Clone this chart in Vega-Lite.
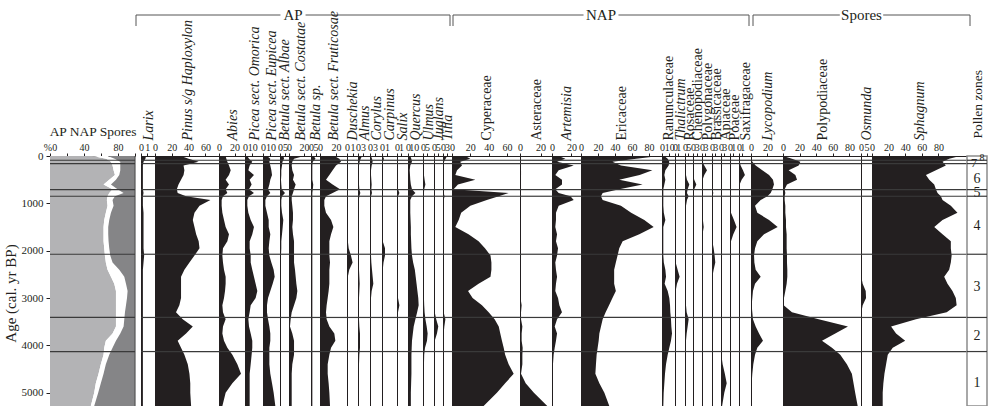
{
"$schema":"https://vega.github.io/schema/vega-lite/v6.json",
"padding":{"top":7,"left":3,"right":0,"bottom":0},
"config":{"view":{"stroke":null},
"axis":{"labelFont":"Liberation Serif","titleFont":"Liberation Serif","labelColor":"#231f20","titleColor":"#231f20","domainColor":"#231f20","tickColor":"#231f20","titleFontWeight":"normal","labelFlush":false,"labelOverlap":false,"labelBound":false,"grid":false,"labelFontSize":10,"tickSize":3,"labelPadding":1},
"text":{"font":"Liberation Serif"}},
"datasets":{
"pollen":[
{"age":0,"AP":50,"NAP":18,"Spores":32,"Larix":0.8,"Pinus":31,"Abies":8.5,"PiceaOm":3.2,"PiceaEu":5.4,"BetAlb":3.5,"BetCos":20,"BetSp":3,"BetFru":17.9,"Dusch":0.15,"Almus":2.4,"Corylus":0.6,"Carpinus":0.15,"Salix":0.25,"Quercus":4,"Ulmus":1.2,"Juglans":0.5,"Tilia":3,"Cyper":14.5,"Aster":0.3,"Artem":6.9,"Eric":92,"Ranun":3.2,"Thal":0.2,"Rosa":1.5,"Cheno":0.3,"Polyg":0.3,"Brass":0.3,"Api":0.3,"Poa":0.3,"Saxi":0.2,"Lyco":0,"Polyp":0,"Osmu":0.3,"Sphag":106},
{"age":60,"AP":66,"NAP":10,"Spores":24,"Larix":0.7,"Pinus":40,"Abies":9.4,"PiceaOm":5.5,"PiceaEu":9.9,"BetAlb":4,"BetCos":6.7,"BetSp":5,"BetFru":24.2,"Dusch":0.15,"Almus":1.6,"Corylus":1.2,"Carpinus":0.4,"Salix":0.25,"Quercus":5.8,"Ulmus":1.2,"Juglans":0.5,"Tilia":2,"Cyper":20,"Aster":0.3,"Artem":13.8,"Eric":65,"Ranun":7.8,"Thal":0.2,"Rosa":1.5,"Cheno":0.3,"Polyg":0.3,"Brass":0.3,"Api":0.3,"Poa":0.3,"Saxi":0.2,"Lyco":0.8,"Polyp":10.8,"Osmu":0.3,"Sphag":93},
{"age":120,"AP":71.7,"NAP":11,"Spores":17.3,"Larix":0.4,"Pinus":52,"Abies":10.7,"PiceaOm":10,"PiceaEu":8.6,"BetAlb":2.5,"BetCos":4.4,"BetSp":2,"BetFru":26.3,"Dusch":0.15,"Almus":1,"Corylus":1.6,"Carpinus":0.2,"Salix":0.25,"Quercus":7,"Ulmus":1.2,"Juglans":0.5,"Tilia":0.8,"Cyper":9,"Aster":0.5,"Artem":5.2,"Eric":37,"Ranun":10,"Thal":0.2,"Rosa":1.5,"Cheno":0.3,"Polyg":0.5,"Brass":0.3,"Api":0.3,"Poa":0.3,"Saxi":0.2,"Lyco":1.6,"Polyp":20.9,"Osmu":0.3,"Sphag":85},
{"age":200,"AP":73.6,"NAP":9.1,"Spores":17.3,"Larix":0.3,"Pinus":34,"Abies":12.8,"PiceaOm":6.4,"PiceaEu":9.9,"BetAlb":2,"BetCos":3.6,"BetSp":1.5,"BetFru":20,"Dusch":0.15,"Almus":0.6,"Corylus":1,"Carpinus":0.15,"Salix":0.25,"Quercus":4,"Ulmus":1.2,"Juglans":0.5,"Tilia":0.5,"Cyper":10.9,"Aster":0.8,"Artem":22.4,"Eric":47,"Ranun":9.1,"Thal":0.2,"Rosa":1.5,"Cheno":0.3,"Polyg":2,"Brass":0.3,"Api":0.3,"Poa":0.3,"Saxi":0.5,"Lyco":5.7,"Polyp":18.9,"Osmu":0.3,"Sphag":89},
{"age":300,"AP":74.8,"NAP":7.9,"Spores":17.3,"Larix":0.3,"Pinus":35,"Abies":15,"PiceaOm":4.6,"PiceaEu":11.3,"BetAlb":1.3,"BetCos":4.4,"BetSp":1.5,"BetFru":15.8,"Dusch":0.15,"Almus":0.5,"Corylus":0.6,"Carpinus":0.15,"Salix":0.25,"Quercus":3,"Ulmus":1.2,"Juglans":0.5,"Tilia":0.5,"Cyper":5.5,"Aster":1,"Artem":6.9,"Eric":84,"Ranun":4.6,"Thal":0.2,"Rosa":1.5,"Cheno":0.3,"Polyg":4.4,"Brass":0.3,"Api":0.3,"Poa":0.3,"Saxi":1.2,"Lyco":13.8,"Polyp":6.8,"Osmu":0.3,"Sphag":77},
{"age":400,"AP":76.4,"NAP":5.1,"Spores":18.5,"Larix":0.3,"Pinus":34,"Abies":12.8,"PiceaOm":12.3,"PiceaEu":12.2,"BetAlb":1.3,"BetCos":6.7,"BetSp":1.5,"BetFru":11.7,"Dusch":0.15,"Almus":0.5,"Corylus":0.6,"Carpinus":0.15,"Salix":0.25,"Quercus":3.5,"Ulmus":1.2,"Juglans":0.5,"Tilia":0.5,"Cyper":3.6,"Aster":1,"Artem":3.4,"Eric":69,"Ranun":3.2,"Thal":0.2,"Rosa":1.5,"Cheno":0.3,"Polyg":2,"Brass":0.3,"Api":0.3,"Poa":0.3,"Saxi":1.8,"Lyco":22,"Polyp":14.9,"Osmu":0.3,"Sphag":65},
{"age":500,"AP":69.7,"NAP":7.9,"Spores":22.4,"Larix":0.3,"Pinus":31,"Abies":8.5,"PiceaOm":6.4,"PiceaEu":9.9,"BetAlb":1,"BetCos":5.3,"BetSp":1.5,"BetFru":7.5,"Dusch":0.15,"Almus":0.5,"Corylus":0.8,"Carpinus":0.15,"Salix":0.25,"Quercus":4,"Ulmus":2,"Juglans":0.5,"Tilia":0.5,"Cyper":25.5,"Aster":0.5,"Artem":10.3,"Eric":45,"Ranun":4.6,"Thal":0.2,"Rosa":3,"Cheno":1,"Polyg":0.5,"Brass":0.3,"Api":0.3,"Poa":0.3,"Saxi":0.8,"Lyco":26.8,"Polyp":16.9,"Osmu":0.3,"Sphag":69},
{"age":600,"AP":63,"NAP":8.7,"Spores":28.3,"Larix":0.3,"Pinus":28,"Abies":12.8,"PiceaOm":9.1,"PiceaEu":8.6,"BetAlb":1.3,"BetCos":8.9,"BetSp":2.5,"BetFru":15.8,"Dusch":0.15,"Almus":0.6,"Corylus":1,"Carpinus":0.15,"Salix":0.25,"Quercus":5,"Ulmus":3,"Juglans":0.5,"Tilia":0.5,"Cyper":6.5,"Aster":0.3,"Artem":10.3,"Eric":72.5,"Ranun":3.2,"Thal":0.2,"Rosa":6.5,"Cheno":2.7,"Polyg":0.3,"Brass":0.3,"Api":0.3,"Poa":0.3,"Saxi":0.2,"Lyco":28,"Polyp":4.8,"Osmu":0.3,"Sphag":75},
{"age":700,"AP":73.6,"NAP":5.9,"Spores":20.5,"Larix":0.3,"Pinus":26,"Abies":8.5,"PiceaOm":5.5,"PiceaEu":6.8,"BetAlb":1.7,"BetCos":6.7,"BetSp":2,"BetFru":25,"Dusch":0.15,"Almus":0.8,"Corylus":0.8,"Carpinus":0.15,"Salix":0.25,"Quercus":7,"Ulmus":1.5,"Juglans":0.5,"Tilia":0.5,"Cyper":1.8,"Aster":0.3,"Artem":3.4,"Eric":45,"Ranun":1.8,"Thal":0.2,"Rosa":4,"Cheno":1,"Polyg":0.3,"Brass":0.3,"Api":0.3,"Poa":0.3,"Saxi":0.2,"Lyco":26,"Polyp":2,"Osmu":0.3,"Sphag":77},
{"age":780,"AP":69.7,"NAP":16.9,"Spores":13.4,"Larix":0.4,"Pinus":27,"Abies":10.7,"PiceaOm":12.3,"PiceaEu":9.9,"BetAlb":5,"BetCos":5.3,"BetSp":1.5,"BetFru":15.8,"Dusch":0.15,"Almus":1.4,"Corylus":1.2,"Carpinus":0.15,"Salix":0.6,"Quercus":13,"Ulmus":1.2,"Juglans":0.5,"Tilia":0.5,"Cyper":61.8,"Aster":0.3,"Artem":6.9,"Eric":25.5,"Ranun":1.8,"Thal":0.2,"Rosa":3,"Cheno":0.3,"Polyg":0.3,"Brass":1.2,"Api":0.3,"Poa":0.3,"Saxi":0.2,"Lyco":24,"Polyp":2.8,"Osmu":0.3,"Sphag":79},
{"age":850,"AP":67.7,"NAP":8.7,"Spores":23.6,"Larix":0.3,"Pinus":37,"Abies":5.1,"PiceaOm":5.5,"PiceaEu":5.4,"BetAlb":2,"BetCos":3.6,"BetSp":1.5,"BetFru":7.5,"Dusch":0.15,"Almus":0.8,"Corylus":0.6,"Carpinus":0.15,"Salix":0.25,"Quercus":7,"Ulmus":1.2,"Juglans":0.5,"Tilia":1.2,"Cyper":51,"Aster":0.3,"Artem":19,"Eric":23.5,"Ranun":1.8,"Thal":0.2,"Rosa":5.5,"Cheno":0.3,"Polyg":0.3,"Brass":0.3,"Api":0.3,"Poa":0.3,"Saxi":0.2,"Lyco":20,"Polyp":2,"Osmu":0.3,"Sphag":83},
{"age":930,"AP":66.9,"NAP":6.7,"Spores":26.4,"Larix":0.3,"Pinus":66,"Abies":3.4,"PiceaOm":3.2,"PiceaEu":3.2,"BetAlb":1.3,"BetCos":3.6,"BetSp":1.5,"BetFru":5.4,"Dusch":0.15,"Almus":0.5,"Corylus":0.6,"Carpinus":0.15,"Salix":0.25,"Quercus":4,"Ulmus":1.2,"Juglans":0.5,"Tilia":0.5,"Cyper":38,"Aster":0.3,"Artem":22.4,"Eric":25.5,"Ranun":1.8,"Thal":0.2,"Rosa":3,"Cheno":0.3,"Polyg":0.3,"Brass":0.3,"Api":0.3,"Poa":0.3,"Saxi":0.2,"Lyco":11.8,"Polyp":2,"Osmu":0.3,"Sphag":85},
{"age":1050,"AP":67.7,"NAP":7.1,"Spores":25.2,"Larix":0.3,"Pinus":53,"Abies":3.4,"PiceaOm":3.2,"PiceaEu":3.2,"BetAlb":1.3,"BetCos":4.4,"BetSp":1.5,"BetFru":5.4,"Dusch":0.15,"Almus":0.5,"Corylus":0.6,"Carpinus":0.15,"Salix":0.25,"Quercus":4,"Ulmus":1.2,"Juglans":0.5,"Tilia":0.5,"Cyper":20,"Aster":0.3,"Artem":6.9,"Eric":47,"Ranun":1.8,"Thal":0.2,"Rosa":1.5,"Cheno":0.3,"Polyg":0.3,"Brass":0.3,"Api":0.3,"Poa":0.3,"Saxi":0.2,"Lyco":4.9,"Polyp":2.8,"Osmu":0.3,"Sphag":95},
{"age":1200,"AP":65.7,"NAP":6,"Spores":28.3,"Larix":0.4,"Pinus":47,"Abies":4.3,"PiceaOm":4.6,"PiceaEu":5.4,"BetAlb":2,"BetCos":5.3,"BetSp":1.5,"BetFru":7.5,"Dusch":0.15,"Almus":0.5,"Corylus":0.6,"Carpinus":0.15,"Salix":0.25,"Quercus":4,"Ulmus":1.2,"Juglans":0.5,"Tilia":0.5,"Cyper":10,"Aster":0.3,"Artem":4.1,"Eric":59,"Ranun":2.5,"Thal":0.2,"Rosa":1.5,"Cheno":0.3,"Polyg":0.3,"Brass":0.3,"Api":0.3,"Poa":0.3,"Saxi":0.2,"Lyco":7.7,"Polyp":2.8,"Osmu":0.3,"Sphag":103},
{"age":1350,"AP":63.8,"NAP":5.9,"Spores":30.3,"Larix":0.4,"Pinus":45,"Abies":6.4,"PiceaOm":7.8,"PiceaEu":7.7,"BetAlb":3.3,"BetCos":5.3,"BetSp":1.5,"BetFru":13.8,"Dusch":0.15,"Almus":0.5,"Corylus":0.6,"Carpinus":0.15,"Salix":0.25,"Quercus":4.5,"Ulmus":1.2,"Juglans":0.5,"Tilia":0.5,"Cyper":7.3,"Aster":0.3,"Artem":4.1,"Eric":74.5,"Ranun":4.6,"Thal":0.2,"Rosa":1.5,"Cheno":0.3,"Polyg":0.8,"Brass":0.3,"Api":0.3,"Poa":1.2,"Saxi":0.2,"Lyco":22,"Polyp":3.6,"Osmu":0.3,"Sphag":85},
{"age":1500,"AP":63,"NAP":5.5,"Spores":31.5,"Larix":0.4,"Pinus":47,"Abies":8.5,"PiceaOm":12.3,"PiceaEu":7.7,"BetAlb":2.7,"BetCos":4.4,"BetSp":1.5,"BetFru":16.7,"Dusch":0.15,"Almus":0.5,"Corylus":0.6,"Carpinus":0.15,"Salix":0.25,"Quercus":5,"Ulmus":1.2,"Juglans":0.5,"Tilia":0.5,"Cyper":3.6,"Aster":0.3,"Artem":3.4,"Eric":85.5,"Ranun":1.8,"Thal":0.2,"Rosa":1.5,"Cheno":0.3,"Polyg":1.5,"Brass":0.3,"Api":0.3,"Poa":2,"Saxi":0.2,"Lyco":32.5,"Polyp":3.6,"Osmu":0.3,"Sphag":75},
{"age":1650,"AP":63,"NAP":5.5,"Spores":31.5,"Larix":0.4,"Pinus":49,"Abies":12.8,"PiceaOm":10,"PiceaEu":9.9,"BetAlb":2,"BetCos":5.3,"BetSp":1.5,"BetFru":13.8,"Dusch":0.15,"Almus":0.5,"Corylus":0.6,"Carpinus":0.15,"Salix":0.25,"Quercus":5,"Ulmus":1.2,"Juglans":0.5,"Tilia":0.5,"Cyper":18,"Aster":0.3,"Artem":5.2,"Eric":68.6,"Ranun":1.8,"Thal":0.2,"Rosa":1.5,"Cheno":0.3,"Polyg":0.5,"Brass":0.3,"Api":0.3,"Poa":1,"Saxi":0.2,"Lyco":15.9,"Polyp":4.4,"Osmu":0.3,"Sphag":85},
{"age":1800,"AP":63,"NAP":5.9,"Spores":31.1,"Larix":0.4,"Pinus":52,"Abies":10.7,"PiceaOm":6.4,"PiceaEu":8.6,"BetAlb":1.3,"BetCos":6.7,"BetSp":1.5,"BetFru":11.7,"Dusch":0.15,"Almus":0.5,"Corylus":0.6,"Carpinus":0.15,"Salix":0.25,"Quercus":5.5,"Ulmus":1.2,"Juglans":0.5,"Tilia":0.5,"Cyper":29,"Aster":0.3,"Artem":4.1,"Eric":49,"Ranun":1.8,"Thal":0.2,"Rosa":1.5,"Cheno":0.3,"Polyg":0.3,"Brass":0.3,"Api":0.3,"Poa":0.3,"Saxi":0.2,"Lyco":7.7,"Polyp":4.4,"Osmu":0.3,"Sphag":95},
{"age":1950,"AP":63.8,"NAP":5.9,"Spores":30.3,"Larix":0.4,"Pinus":53,"Abies":5.1,"PiceaOm":6.4,"PiceaEu":7.7,"BetAlb":1.3,"BetCos":6.7,"BetSp":1.5,"BetFru":11.7,"Dusch":0.3,"Almus":0.6,"Corylus":0.6,"Carpinus":0.6,"Salix":0.25,"Quercus":6,"Ulmus":1.2,"Juglans":0.5,"Tilia":0.5,"Cyper":36,"Aster":0.3,"Artem":6.2,"Eric":45,"Ranun":1.8,"Thal":0.2,"Rosa":1.5,"Cheno":0.3,"Polyg":0.3,"Brass":1.5,"Api":0.3,"Poa":0.3,"Saxi":0.2,"Lyco":4.9,"Polyp":4.4,"Osmu":0.3,"Sphag":95},
{"age":2100,"AP":64.6,"NAP":6.3,"Spores":29.1,"Larix":0.5,"Pinus":47,"Abies":4.3,"PiceaOm":7.8,"PiceaEu":8.6,"BetAlb":1,"BetCos":6.7,"BetSp":1.5,"BetFru":11.7,"Dusch":0.7,"Almus":0.6,"Corylus":0.6,"Carpinus":0.6,"Salix":0.25,"Quercus":7,"Ulmus":1.2,"Juglans":0.5,"Tilia":0.5,"Cyper":42,"Aster":0.3,"Artem":5.2,"Eric":43,"Ranun":1.8,"Thal":0.2,"Rosa":1.5,"Cheno":0.3,"Polyg":0.3,"Brass":2.4,"Api":0.3,"Poa":0.3,"Saxi":0.2,"Lyco":3.7,"Polyp":4.8,"Osmu":0.3,"Sphag":96},
{"age":2250,"AP":65.7,"NAP":7.9,"Spores":26.4,"Larix":0.4,"Pinus":41,"Abies":5.1,"PiceaOm":7.8,"PiceaEu":11.3,"BetAlb":1,"BetCos":6.7,"BetSp":1.5,"BetFru":12.5,"Dusch":1,"Almus":0.6,"Corylus":0.8,"Carpinus":0.3,"Salix":0.25,"Quercus":9,"Ulmus":1.2,"Juglans":0.5,"Tilia":0.5,"Cyper":43,"Aster":0.3,"Artem":3.4,"Eric":41,"Ranun":2.5,"Thal":0.2,"Rosa":1.5,"Cheno":0.3,"Polyg":0.3,"Brass":3,"Api":0.3,"Poa":0.3,"Saxi":0.2,"Lyco":4.1,"Polyp":4.8,"Osmu":0.3,"Sphag":95},
{"age":2400,"AP":67.7,"NAP":13.8,"Spores":18.5,"Larix":0.3,"Pinus":35,"Abies":6.4,"PiceaOm":10,"PiceaEu":14.4,"BetAlb":1,"BetCos":8,"BetSp":1.5,"BetFru":11.7,"Dusch":0.4,"Almus":0.6,"Corylus":1.2,"Carpinus":0.15,"Salix":0.25,"Quercus":12,"Ulmus":1.2,"Juglans":0.5,"Tilia":0.5,"Cyper":43,"Aster":0.3,"Artem":4.1,"Eric":39,"Ranun":4.6,"Thal":0.8,"Rosa":1.5,"Cheno":0.3,"Polyg":0.3,"Brass":1.5,"Api":0.3,"Poa":0.3,"Saxi":0.2,"Lyco":5.7,"Polyp":5.2,"Osmu":0.3,"Sphag":93},
{"age":2550,"AP":71.7,"NAP":15.7,"Spores":12.6,"Larix":0.3,"Pinus":31,"Abies":8.5,"PiceaOm":12.3,"PiceaEu":15.8,"BetAlb":1,"BetCos":8.9,"BetSp":1.5,"BetFru":11.7,"Dusch":0.15,"Almus":0.8,"Corylus":1.6,"Carpinus":0.15,"Salix":0.25,"Quercus":13.5,"Ulmus":1.2,"Juglans":0.5,"Tilia":0.5,"Cyper":42,"Aster":0.3,"Artem":5.2,"Eric":39,"Ranun":5.5,"Thal":1.4,"Rosa":1.5,"Cheno":0.3,"Polyg":0.3,"Brass":0.3,"Api":0.3,"Poa":0.3,"Saxi":0.2,"Lyco":11.8,"Polyp":5.2,"Osmu":0.3,"Sphag":87},
{"age":2700,"AP":75.6,"NAP":13.8,"Spores":10.6,"Larix":0.3,"Pinus":31,"Abies":8.5,"PiceaOm":14.6,"PiceaEu":13.1,"BetAlb":1,"BetCos":9.8,"BetSp":1.5,"BetFru":11.7,"Dusch":0.15,"Almus":1,"Corylus":2,"Carpinus":0.15,"Salix":0.25,"Quercus":15,"Ulmus":1.2,"Juglans":0.5,"Tilia":0.5,"Cyper":29,"Aster":0.3,"Artem":4.1,"Eric":39,"Ranun":3.6,"Thal":0.6,"Rosa":1.5,"Cheno":0.3,"Polyg":0.3,"Brass":0.3,"Api":0.3,"Poa":0.3,"Saxi":0.2,"Lyco":4.9,"Polyp":4.4,"Osmu":1.5,"Sphag":91},
{"age":2850,"AP":77.6,"NAP":13.7,"Spores":8.7,"Larix":0.3,"Pinus":31,"Abies":7.7,"PiceaOm":16.9,"PiceaEu":9.9,"BetAlb":1,"BetCos":11.1,"BetSp":1.5,"BetFru":10.8,"Dusch":0.15,"Almus":0.8,"Corylus":1,"Carpinus":0.15,"Salix":0.25,"Quercus":16.5,"Ulmus":1.2,"Juglans":0.5,"Tilia":0.5,"Cyper":17.5,"Aster":0.3,"Artem":3.4,"Eric":41,"Ranun":7.8,"Thal":0.2,"Rosa":1.5,"Cheno":0.3,"Polyg":0.3,"Brass":0.3,"Api":0.3,"Poa":0.3,"Saxi":0.2,"Lyco":2.4,"Polyp":2.8,"Osmu":4.2,"Sphag":97},
{"age":3000,"AP":77.6,"NAP":13,"Spores":9.4,"Larix":0.3,"Pinus":31,"Abies":6.4,"PiceaOm":14.6,"PiceaEu":6.8,"BetAlb":1,"BetCos":9.8,"BetSp":1.5,"BetFru":9.6,"Dusch":0.15,"Almus":0.6,"Corylus":0.6,"Carpinus":0.15,"Salix":0.25,"Quercus":18,"Ulmus":1.2,"Juglans":0.5,"Tilia":0.5,"Cyper":22.5,"Aster":0.5,"Artem":6.2,"Eric":37,"Ranun":10,"Thal":0.2,"Rosa":1.5,"Cheno":0.3,"Polyg":0.3,"Brass":0.3,"Api":0.3,"Poa":0.3,"Saxi":0.2,"Lyco":1.6,"Polyp":1.2,"Osmu":4.5,"Sphag":101},
{"age":3150,"AP":77.6,"NAP":11.8,"Spores":10.6,"Larix":0.3,"Pinus":29,"Abies":4.3,"PiceaOm":7.8,"PiceaEu":5.4,"BetAlb":1,"BetCos":6.7,"BetSp":1.5,"BetFru":8.3,"Dusch":0.15,"Almus":0.5,"Corylus":0.6,"Carpinus":0.15,"Salix":0.6,"Quercus":18.7,"Ulmus":1.5,"Juglans":0.5,"Tilia":0.5,"Cyper":32.7,"Aster":1.6,"Artem":7.6,"Eric":33,"Ranun":11,"Thal":0.2,"Rosa":1.5,"Cheno":0.3,"Polyg":0.3,"Brass":0.3,"Api":0.3,"Poa":0.3,"Saxi":0.2,"Lyco":0.8,"Polyp":0.8,"Osmu":1.5,"Sphag":102},
{"age":3300,"AP":77.6,"NAP":10.6,"Spores":11.8,"Larix":0.3,"Pinus":25,"Abies":5.1,"PiceaOm":6.4,"PiceaEu":5.4,"BetAlb":1,"BetCos":3.6,"BetSp":1.5,"BetFru":7.5,"Dusch":0.15,"Almus":0.5,"Corylus":0.6,"Carpinus":0.15,"Salix":0.25,"Quercus":16,"Ulmus":2,"Juglans":1,"Tilia":0.5,"Cyper":40,"Aster":1,"Artem":10.3,"Eric":29,"Ranun":11.4,"Thal":0.2,"Rosa":2.5,"Cheno":0.3,"Polyg":0.3,"Brass":0.3,"Api":0.3,"Poa":0.3,"Saxi":0.2,"Lyco":1.6,"Polyp":10.8,"Osmu":0.3,"Sphag":90},
{"age":3450,"AP":77.6,"NAP":9.8,"Spores":12.6,"Larix":0.3,"Pinus":33,"Abies":8.5,"PiceaOm":4.6,"PiceaEu":6.8,"BetAlb":1,"BetCos":2.2,"BetSp":1.5,"BetFru":8.3,"Dusch":0.15,"Almus":0.6,"Corylus":0.6,"Carpinus":0.15,"Salix":0.25,"Quercus":13,"Ulmus":3,"Juglans":3,"Tilia":1.8,"Cyper":46.5,"Aster":1,"Artem":5.2,"Eric":25.5,"Ranun":12.3,"Thal":0.2,"Rosa":5.5,"Cheno":0.3,"Polyg":0.3,"Brass":0.3,"Api":0.3,"Poa":0.3,"Saxi":0.2,"Lyco":2.4,"Polyp":43,"Osmu":0.3,"Sphag":53},
{"age":3600,"AP":77.6,"NAP":9,"Spores":13.4,"Larix":0.3,"Pinus":45,"Abies":5.1,"PiceaOm":5.5,"PiceaEu":8.6,"BetAlb":1,"BetCos":1.3,"BetSp":1.5,"BetFru":11.7,"Dusch":0.15,"Almus":0.8,"Corylus":0.6,"Carpinus":0.15,"Salix":0.25,"Quercus":10,"Ulmus":4.6,"Juglans":5.8,"Tilia":1,"Cyper":51,"Aster":2.3,"Artem":2.8,"Eric":23.5,"Ranun":12.8,"Thal":0.2,"Rosa":4,"Cheno":0.3,"Polyg":0.3,"Brass":0.3,"Api":0.3,"Poa":0.3,"Saxi":0.2,"Lyco":5.7,"Polyp":78.3,"Osmu":0.3,"Sphag":23},
{"age":3750,"AP":73.6,"NAP":9.1,"Spores":17.3,"Larix":0.3,"Pinus":37,"Abies":4.3,"PiceaOm":7.8,"PiceaEu":9.9,"BetAlb":1,"BetCos":4.4,"BetSp":1.5,"BetFru":17.9,"Dusch":0.15,"Almus":1.2,"Corylus":0.6,"Carpinus":0.15,"Salix":0.25,"Quercus":8.5,"Ulmus":5.8,"Juglans":4,"Tilia":0.5,"Cyper":52.7,"Aster":1.6,"Artem":5.2,"Eric":21.6,"Ranun":13.7,"Thal":0.2,"Rosa":2.5,"Cheno":0.3,"Polyg":0.3,"Brass":0.3,"Api":0.3,"Poa":0.3,"Saxi":0.2,"Lyco":9.8,"Polyp":63,"Osmu":0.3,"Sphag":29},
{"age":3900,"AP":65.7,"NAP":11.9,"Spores":22.4,"Larix":0.3,"Pinus":27,"Abies":6.4,"PiceaOm":10,"PiceaEu":9.9,"BetAlb":0.8,"BetCos":6.7,"BetSp":1.5,"BetFru":19.2,"Dusch":0.15,"Almus":1.2,"Corylus":0.6,"Carpinus":0.15,"Salix":0.25,"Quercus":7,"Ulmus":5,"Juglans":1,"Tilia":0.5,"Cyper":54.5,"Aster":1.6,"Artem":4.1,"Eric":20.8,"Ranun":12.3,"Thal":0.2,"Rosa":1.5,"Cheno":0.3,"Polyg":0.3,"Brass":0.3,"Api":0.3,"Poa":0.3,"Saxi":0.2,"Lyco":14.6,"Polyp":47,"Osmu":0.8,"Sphag":40},
{"age":4050,"AP":63.8,"NAP":9.8,"Spores":26.4,"Larix":0.3,"Pinus":31,"Abies":10.7,"PiceaOm":10,"PiceaEu":8.6,"BetAlb":0.7,"BetCos":6.7,"BetSp":1.5,"BetFru":13.8,"Dusch":0.15,"Almus":1.2,"Corylus":0.6,"Carpinus":0.15,"Salix":0.25,"Quercus":6.5,"Ulmus":2.5,"Juglans":0.5,"Tilia":0.5,"Cyper":56.4,"Aster":2.6,"Artem":2.8,"Eric":19.6,"Ranun":10,"Thal":0.2,"Rosa":1.5,"Cheno":0.3,"Polyg":0.3,"Brass":0.3,"Api":0.3,"Poa":0.3,"Saxi":0.2,"Lyco":7.7,"Polyp":59,"Osmu":0.3,"Sphag":25},
{"age":4200,"AP":63,"NAP":6.7,"Spores":30.3,"Larix":0.3,"Pinus":35,"Abies":17.1,"PiceaOm":9.1,"PiceaEu":8.6,"BetAlb":0.7,"BetCos":6.7,"BetSp":1.5,"BetFru":11.7,"Dusch":0.15,"Almus":0.8,"Corylus":0.6,"Carpinus":0.15,"Salix":0.25,"Quercus":6,"Ulmus":1.5,"Juglans":0.5,"Tilia":0.5,"Cyper":58,"Aster":2.3,"Artem":1.7,"Eric":18.4,"Ranun":7.8,"Thal":0.2,"Rosa":1.5,"Cheno":0.3,"Polyg":0.3,"Brass":0.3,"Api":0.3,"Poa":0.3,"Saxi":0.2,"Lyco":4.9,"Polyp":69,"Osmu":0.3,"Sphag":19},
{"age":4400,"AP":59.8,"NAP":5.9,"Spores":34.3,"Larix":0.3,"Pinus":39,"Abies":23.5,"PiceaOm":7.8,"PiceaEu":8.6,"BetAlb":0.7,"BetCos":4.4,"BetSp":1.5,"BetFru":9.6,"Dusch":0.15,"Almus":0.6,"Corylus":0.6,"Carpinus":0.15,"Salix":0.25,"Quercus":6,"Ulmus":1.2,"Juglans":0.5,"Tilia":0.5,"Cyper":61.8,"Aster":2.3,"Artem":1,"Eric":17.6,"Ranun":5.5,"Thal":0.2,"Rosa":1.5,"Cheno":0.3,"Polyg":0.3,"Brass":0.3,"Api":1.5,"Poa":0.3,"Saxi":0.2,"Lyco":2.8,"Polyp":77,"Osmu":0.3,"Sphag":17},
{"age":4600,"AP":57.1,"NAP":5.9,"Spores":37,"Larix":0.3,"Pinus":41,"Abies":28.2,"PiceaOm":6.4,"PiceaEu":9.9,"BetAlb":0.7,"BetCos":3.6,"BetSp":1.5,"BetFru":9.6,"Dusch":0.15,"Almus":0.6,"Corylus":0.6,"Carpinus":0.15,"Salix":0.25,"Quercus":6,"Ulmus":1.2,"Juglans":0.5,"Tilia":0.5,"Cyper":67.3,"Aster":1,"Artem":0.7,"Eric":16.9,"Ranun":4.1,"Thal":0.2,"Rosa":1.5,"Cheno":0.3,"Polyg":0.3,"Brass":0.3,"Api":3.5,"Poa":0.3,"Saxi":0.2,"Lyco":1.6,"Polyp":83,"Osmu":0.3,"Sphag":15},
{"age":4800,"AP":53.9,"NAP":5.9,"Spores":40.2,"Larix":0.3,"Pinus":42,"Abies":17.1,"PiceaOm":6.4,"PiceaEu":12.2,"BetAlb":0.7,"BetCos":3.6,"BetSp":1.5,"BetFru":10.8,"Dusch":0.15,"Almus":0.5,"Corylus":0.6,"Carpinus":0.15,"Salix":0.25,"Quercus":5.5,"Ulmus":1.2,"Juglans":0.5,"Tilia":0.5,"Cyper":58,"Aster":5.5,"Artem":0.4,"Eric":21.6,"Ranun":3.2,"Thal":0.2,"Rosa":1.5,"Cheno":0.3,"Polyg":0.3,"Brass":0.3,"Api":5.2,"Poa":0.3,"Saxi":0.2,"Lyco":0.8,"Polyp":85,"Osmu":0.3,"Sphag":13.7},
{"age":5000,"AP":52,"NAP":4.7,"Spores":43.3,"Larix":0.3,"Pinus":42,"Abies":8.5,"PiceaOm":6.4,"PiceaEu":14.4,"BetAlb":0.7,"BetCos":3.6,"BetSp":1.5,"BetFru":11.7,"Dusch":0.15,"Almus":0.5,"Corylus":0.6,"Carpinus":0.15,"Salix":0.25,"Quercus":5,"Ulmus":1.2,"Juglans":0.5,"Tilia":0.5,"Cyper":49,"Aster":13.5,"Artem":0.4,"Eric":27.5,"Ranun":2.3,"Thal":0.2,"Rosa":1.5,"Cheno":0.3,"Polyg":0.3,"Brass":0.3,"Api":3,"Poa":0.3,"Saxi":0.2,"Lyco":0.4,"Polyp":87,"Osmu":0.3,"Sphag":12.9},
{"age":5280,"AP":48,"NAP":4,"Spores":48,"Larix":0.3,"Pinus":43,"Abies":4.3,"PiceaOm":6.4,"PiceaEu":16.7,"BetAlb":0.7,"BetCos":3.6,"BetSp":1.5,"BetFru":12.5,"Dusch":0.15,"Almus":0.5,"Corylus":0.6,"Carpinus":0.15,"Salix":0.25,"Quercus":5,"Ulmus":1.2,"Juglans":0.5,"Tilia":0.5,"Cyper":34.5,"Aster":26.5,"Artem":0.2,"Eric":33.3,"Ranun":1.8,"Thal":0.2,"Rosa":1.5,"Cheno":0.3,"Polyg":0.3,"Brass":0.3,"Api":1,"Poa":0.3,"Saxi":0.2,"Lyco":0,"Polyp":90,"Osmu":0.3,"Sphag":12.9}
],
"zoneLines":[{"age":90},{"age":160},{"age":710},{"age":850},{"age":2075},{"age":3410},{"age":4130}],
"zoneLabels":[{"zone":8,"mid":40},{"zone":7,"mid":140},{"zone":6,"mid":476},{"zone":5,"mid":775},{"zone":4,"mid":1480},{"zone":3,"mid":2760},{"zone":2,"mid":3810},{"zone":1,"mid":4785}]
},
"data":{"name":"pollen"},
"vconcat":[
{"hconcat":[
{"width":86,"height":11,"data":{"values":[]},"mark":"point"},
{"width":314,"height":11,"data":{"values":[{}]},"layer":[
{"mark":{"type":"rule","color":"#555555"},"encoding":{"x":{"datum":0,"type":"quantitative","scale":{"domain":[0,1],"nice":false,"zero":false},"axis":null},"x2":{"datum":0.46},"y":{"datum":1,"type":"quantitative","scale":{"domain":[0,1],"nice":false,"zero":false},"axis":null}}},
{"mark":{"type":"rule","color":"#555555"},"encoding":{"x":{"datum":0.54,"type":"quantitative","axis":null},"x2":{"datum":1},"y":{"datum":1,"type":"quantitative","axis":null}}},
{"mark":{"type":"rule","color":"#555555"},"encoding":{"x":{"datum":0,"type":"quantitative","axis":null},"y":{"datum":0,"type":"quantitative","axis":null},"y2":{"datum":1}}},
{"mark":{"type":"rule","color":"#555555"},"encoding":{"x":{"datum":1,"type":"quantitative","axis":null},"y":{"datum":0,"type":"quantitative","axis":null},"y2":{"datum":1}}},
{"mark":{"type":"text","fontSize":15,"baseline":"middle","color":"#231f20"},"encoding":{"x":{"datum":0.5,"type":"quantitative","axis":null},"y":{"datum":1,"type":"quantitative","axis":null},"text":{"value":"AP"}}}
]},
{"width":3,"height":11,"data":{"values":[]},"mark":"point"},
{"width":296,"height":11,"data":{"values":[{}]},"layer":[
{"mark":{"type":"rule","color":"#555555"},"encoding":{"x":{"datum":0,"type":"quantitative","scale":{"domain":[0,1],"nice":false,"zero":false},"axis":null},"x2":{"datum":0.441},"y":{"datum":1,"type":"quantitative","scale":{"domain":[0,1],"nice":false,"zero":false},"axis":null}}},
{"mark":{"type":"rule","color":"#555555"},"encoding":{"x":{"datum":0.559,"type":"quantitative","axis":null},"x2":{"datum":1},"y":{"datum":1,"type":"quantitative","axis":null}}},
{"mark":{"type":"rule","color":"#555555"},"encoding":{"x":{"datum":0,"type":"quantitative","axis":null},"y":{"datum":0,"type":"quantitative","axis":null},"y2":{"datum":1}}},
{"mark":{"type":"rule","color":"#555555"},"encoding":{"x":{"datum":1,"type":"quantitative","axis":null},"y":{"datum":0,"type":"quantitative","axis":null},"y2":{"datum":1}}},
{"mark":{"type":"text","fontSize":15,"baseline":"middle","color":"#231f20"},"encoding":{"x":{"datum":0.5,"type":"quantitative","axis":null},"y":{"datum":1,"type":"quantitative","axis":null},"text":{"value":"NAP"}}}
]},
{"width":4,"height":11,"data":{"values":[]},"mark":"point"},
{"width":217,"height":11,"data":{"values":[{}]},"layer":[
{"mark":{"type":"rule","color":"#555555"},"encoding":{"x":{"datum":0,"type":"quantitative","scale":{"domain":[0,1],"nice":false,"zero":false},"axis":null},"x2":{"datum":0.4},"y":{"datum":1,"type":"quantitative","scale":{"domain":[0,1],"nice":false,"zero":false},"axis":null}}},
{"mark":{"type":"rule","color":"#555555"},"encoding":{"x":{"datum":0.6,"type":"quantitative","axis":null},"x2":{"datum":1},"y":{"datum":1,"type":"quantitative","axis":null}}},
{"mark":{"type":"rule","color":"#555555"},"encoding":{"x":{"datum":0,"type":"quantitative","axis":null},"y":{"datum":0,"type":"quantitative","axis":null},"y2":{"datum":1}}},
{"mark":{"type":"rule","color":"#555555"},"encoding":{"x":{"datum":1,"type":"quantitative","axis":null},"y":{"datum":0,"type":"quantitative","axis":null},"y2":{"datum":1}}},
{"mark":{"type":"text","fontSize":15,"baseline":"middle","color":"#231f20"},"encoding":{"x":{"datum":0.5,"type":"quantitative","axis":null},"y":{"datum":1,"type":"quantitative","axis":null},"text":{"value":"Spores"}}}
]}
],"spacing":0,"bounds":"flush"},
{"hconcat":[
{"width":85,"height":250,"layer":[
{"transform":[{"fold":["AP","NAP","Spores"],"as":["grp","pct"]}],"mark":{"type":"area","orient":"horizontal"},"encoding":{
"y":{"field":"age","type":"quantitative","scale":{"domain":[0,5280],"reverse":true,"nice":false,"zero":false},"axis":{"orient":"left","values":[0,1000,2000,3000,4000,5000],"format":"d","title":"Age (cal. yr BP)","titleFontSize":15,"labelFontSize":11,"tickSize":4,"labelPadding":3,"domain":false,"titlePadding":3,"titleY":137}},
"x":{"field":"pct","type":"quantitative","stack":"zero","scale":{"domain":[0,100],"nice":false,"zero":false},"axis":{"orient":"top","values":[0,20,40,60,80,100],"labelExpr":"datum.value == 0 ? '%0' : (datum.value == 40 || datum.value == 80 ? datum.label : '')","title":"AP NAP Spores","titleFontSize":13.5,"titlePadding":4}},
"color":{"field":"grp","type":"nominal","scale":{"domain":["AP","NAP","Spores"],"range":["#b3b3b5","#ffffff","#858587"]},"legend":null}}},
{"data":{"values":[{}]},"mark":{"type":"rule","color":"#555555","strokeWidth":1.2},"encoding":{"x":{"datum":100,"type":"quantitative","axis":{"orient":"top","values":[0,20,40,60,80,100],"labelExpr":"datum.value == 0 ? '%0' : (datum.value == 40 || datum.value == 80 ? datum.label : '')","title":"AP NAP Spores","titleFontSize":13.5,"titlePadding":4}}}},
{"data":{"name":"zoneLines"},"mark":{"type":"rule","color":"#3a3a3a","strokeWidth":1.2},"encoding":{"y":{"field":"age","type":"quantitative","axis":{"orient":"left","values":[0,1000,2000,3000,4000,5000],"format":"d","title":"Age (cal. yr BP)","titleFontSize":15,"labelFontSize":11,"tickSize":4,"labelPadding":3,"domain":false,"titlePadding":3,"titleY":137}}}}
]},
{"width":6,"height":250,"data":{"values":[]},"mark":"point"},
{"width":14,"height":250,"layer":[{"mark":{"type":"area","orient":"horizontal","color":"#231f20"},"encoding":{"y":{"field":"age","type":"quantitative","scale":{"domain":[0,5280],"reverse":true,"nice":false,"zero":false},"axis":{"labels":false,"ticks":false,"title":null,"domain":true}},"x":{"field":"Larix","type":"quantitative","scale":{"domain":[0,2.22],"nice":false,"zero":false},"axis":{"orient":"top","values":[0,1],"title":"Larix","titleFontStyle":"italic","titleAngle":-90,"titleAlign":"left","titleBaseline":"middle","titleFontSize":14,"titlePadding":2}}}},{"data":{"name":"zoneLines"},"mark":{"type":"rule","color":"#3a3a3a","strokeWidth":1.2},"encoding":{"y":{"field":"age","type":"quantitative","axis":{"labels":false,"ticks":false,"title":null,"domain":true}}}}]},
{"width":64,"height":250,"layer":[{"mark":{"type":"area","orient":"horizontal","color":"#231f20"},"encoding":{"y":{"field":"age","type":"quantitative","scale":{"domain":[0,5280],"reverse":true,"nice":false,"zero":false},"axis":{"labels":false,"ticks":false,"title":null,"domain":true}},"x":{"field":"Pinus","type":"quantitative","scale":{"domain":[0,76.2],"nice":false,"zero":false},"axis":{"orient":"top","values":[0,20,40,60],"title":"Pinus s/g Haploxylon","titleFontStyle":"italic","titleAngle":-90,"titleAlign":"left","titleBaseline":"middle","titleFontSize":14,"titlePadding":2}}}},{"data":{"name":"zoneLines"},"mark":{"type":"rule","color":"#3a3a3a","strokeWidth":1.2},"encoding":{"y":{"field":"age","type":"quantitative","axis":{"labels":false,"ticks":false,"title":null,"domain":true}}}}]},
{"width":26,"height":250,"layer":[{"mark":{"type":"area","orient":"horizontal","color":"#231f20"},"encoding":{"y":{"field":"age","type":"quantitative","scale":{"domain":[0,5280],"reverse":true,"nice":false,"zero":false},"axis":{"labels":false,"ticks":false,"title":null,"domain":true}},"x":{"field":"Abies","type":"quantitative","scale":{"domain":[0,33.3],"nice":false,"zero":false},"axis":{"orient":"top","values":[0,20],"title":"Abies","titleFontStyle":"italic","titleAngle":-90,"titleAlign":"left","titleBaseline":"middle","titleFontSize":14,"titlePadding":2}}}},{"data":{"name":"zoneLines"},"mark":{"type":"rule","color":"#3a3a3a","strokeWidth":1.2},"encoding":{"y":{"field":"age","type":"quantitative","axis":{"labels":false,"ticks":false,"title":null,"domain":true}}}}]},
{"width":18,"height":250,"layer":[{"mark":{"type":"area","orient":"horizontal","color":"#231f20"},"encoding":{"y":{"field":"age","type":"quantitative","scale":{"domain":[0,5280],"reverse":true,"nice":false,"zero":false},"axis":{"labels":false,"ticks":false,"title":null,"domain":true}},"x":{"field":"PiceaOm","type":"quantitative","scale":{"domain":[0,24.7],"nice":false,"zero":false},"axis":{"orient":"top","values":[0,10],"title":"Picea sect. Omorica","titleFontStyle":"italic","titleAngle":-90,"titleAlign":"left","titleBaseline":"middle","titleFontSize":14,"titlePadding":2}}}},{"data":{"name":"zoneLines"},"mark":{"type":"rule","color":"#3a3a3a","strokeWidth":1.2},"encoding":{"y":{"field":"age","type":"quantitative","axis":{"labels":false,"ticks":false,"title":null,"domain":true}}}}]},
{"width":17,"height":250,"layer":[{"mark":{"type":"area","orient":"horizontal","color":"#231f20"},"encoding":{"y":{"field":"age","type":"quantitative","scale":{"domain":[0,5280],"reverse":true,"nice":false,"zero":false},"axis":{"labels":false,"ticks":false,"title":null,"domain":true}},"x":{"field":"PiceaEu","type":"quantitative","scale":{"domain":[0,23],"nice":false,"zero":false},"axis":{"orient":"top","values":[0,10],"title":"Picea sect. Eupicea","titleFontStyle":"italic","titleAngle":-90,"titleAlign":"left","titleBaseline":"middle","titleFontSize":14,"titlePadding":2}}}},{"data":{"name":"zoneLines"},"mark":{"type":"rule","color":"#3a3a3a","strokeWidth":1.2},"encoding":{"y":{"field":"age","type":"quantitative","axis":{"labels":false,"ticks":false,"title":null,"domain":true}}}}]},
{"width":9,"height":250,"layer":[{"mark":{"type":"area","orient":"horizontal","color":"#231f20"},"encoding":{"y":{"field":"age","type":"quantitative","scale":{"domain":[0,5280],"reverse":true,"nice":false,"zero":false},"axis":{"labels":false,"ticks":false,"title":null,"domain":true}},"x":{"field":"BetAlb","type":"quantitative","scale":{"domain":[0,9],"nice":false,"zero":false},"axis":{"orient":"top","values":[0,5],"title":"Betula  sect. Albae","titleFontStyle":"italic","titleAngle":-90,"titleAlign":"left","titleBaseline":"middle","titleFontSize":14,"titlePadding":2}}}},{"data":{"name":"zoneLines"},"mark":{"type":"rule","color":"#3a3a3a","strokeWidth":1.2},"encoding":{"y":{"field":"age","type":"quantitative","axis":{"labels":false,"ticks":false,"title":null,"domain":true}}}}]},
{"width":22,"height":250,"layer":[{"mark":{"type":"area","orient":"horizontal","color":"#231f20"},"encoding":{"y":{"field":"age","type":"quantitative","scale":{"domain":[0,5280],"reverse":true,"nice":false,"zero":false},"axis":{"labels":false,"ticks":false,"title":null,"domain":true}},"x":{"field":"BetCos","type":"quantitative","scale":{"domain":[0,29.3],"nice":false,"zero":false},"axis":{"orient":"top","values":[0,20],"title":"Betula  sect. Costatae","titleFontStyle":"italic","titleAngle":-90,"titleAlign":"left","titleBaseline":"middle","titleFontSize":14,"titlePadding":2}}}},{"data":{"name":"zoneLines"},"mark":{"type":"rule","color":"#3a3a3a","strokeWidth":1.2},"encoding":{"y":{"field":"age","type":"quantitative","axis":{"labels":false,"ticks":false,"title":null,"domain":true}}}}]},
{"width":9,"height":250,"layer":[{"mark":{"type":"area","orient":"horizontal","color":"#231f20"},"encoding":{"y":{"field":"age","type":"quantitative","scale":{"domain":[0,5280],"reverse":true,"nice":false,"zero":false},"axis":{"labels":false,"ticks":false,"title":null,"domain":true}},"x":{"field":"BetSp","type":"quantitative","scale":{"domain":[0,10],"nice":false,"zero":false},"axis":{"orient":"top","values":[0,5],"title":"Betula  sp.","titleFontStyle":"italic","titleAngle":-90,"titleAlign":"left","titleBaseline":"middle","titleFontSize":14,"titlePadding":2}}}},{"data":{"name":"zoneLines"},"mark":{"type":"rule","color":"#3a3a3a","strokeWidth":1.2},"encoding":{"y":{"field":"age","type":"quantitative","axis":{"labels":false,"ticks":false,"title":null,"domain":true}}}}]},
{"width":27,"height":250,"layer":[{"mark":{"type":"area","orient":"horizontal","color":"#231f20"},"encoding":{"y":{"field":"age","type":"quantitative","scale":{"domain":[0,5280],"reverse":true,"nice":false,"zero":false},"axis":{"labels":false,"ticks":false,"title":null,"domain":true}},"x":{"field":"BetFru","type":"quantitative","scale":{"domain":[0,33.75],"nice":false,"zero":false},"axis":{"orient":"top","values":[0,20],"title":"Betula  sect. Fruticosae","titleFontStyle":"italic","titleAngle":-90,"titleAlign":"left","titleBaseline":"middle","titleFontSize":14,"titlePadding":2}}}},{"data":{"name":"zoneLines"},"mark":{"type":"rule","color":"#3a3a3a","strokeWidth":1.2},"encoding":{"y":{"field":"age","type":"quantitative","axis":{"labels":false,"ticks":false,"title":null,"domain":true}}}}]},
{"width":11,"height":250,"layer":[{"mark":{"type":"area","orient":"horizontal","color":"#231f20"},"encoding":{"y":{"field":"age","type":"quantitative","scale":{"domain":[0,5280],"reverse":true,"nice":false,"zero":false},"axis":{"labels":false,"ticks":false,"title":null,"domain":true}},"x":{"field":"Dusch","type":"quantitative","scale":{"domain":[0,1.96],"nice":false,"zero":false},"axis":{"orient":"top","values":[0,1],"title":"Duschekia","titleFontStyle":"italic","titleAngle":-90,"titleAlign":"left","titleBaseline":"middle","titleFontSize":14,"titlePadding":2}}}},{"data":{"name":"zoneLines"},"mark":{"type":"rule","color":"#3a3a3a","strokeWidth":1.2},"encoding":{"y":{"field":"age","type":"quantitative","axis":{"labels":false,"ticks":false,"title":null,"domain":true}}}}]},
{"width":12,"height":250,"layer":[{"mark":{"type":"area","orient":"horizontal","color":"#231f20"},"encoding":{"y":{"field":"age","type":"quantitative","scale":{"domain":[0,5280],"reverse":true,"nice":false,"zero":false},"axis":{"labels":false,"ticks":false,"title":null,"domain":true}},"x":{"field":"Almus","type":"quantitative","scale":{"domain":[0,7.2],"nice":false,"zero":false},"axis":{"orient":"top","values":[0,3],"title":"Almus","titleFontStyle":"italic","titleAngle":-90,"titleAlign":"left","titleBaseline":"middle","titleFontSize":14,"titlePadding":2}}}},{"data":{"name":"zoneLines"},"mark":{"type":"rule","color":"#3a3a3a","strokeWidth":1.2},"encoding":{"y":{"field":"age","type":"quantitative","axis":{"labels":false,"ticks":false,"title":null,"domain":true}}}}]},
{"width":12,"height":250,"layer":[{"mark":{"type":"area","orient":"horizontal","color":"#231f20"},"encoding":{"y":{"field":"age","type":"quantitative","scale":{"domain":[0,5280],"reverse":true,"nice":false,"zero":false},"axis":{"labels":false,"ticks":false,"title":null,"domain":true}},"x":{"field":"Corylus","type":"quantitative","scale":{"domain":[0,7.2],"nice":false,"zero":false},"axis":{"orient":"top","values":[0,3],"title":"Corylus","titleFontStyle":"italic","titleAngle":-90,"titleAlign":"left","titleBaseline":"middle","titleFontSize":14,"titlePadding":2}}}},{"data":{"name":"zoneLines"},"mark":{"type":"rule","color":"#3a3a3a","strokeWidth":1.2},"encoding":{"y":{"field":"age","type":"quantitative","axis":{"labels":false,"ticks":false,"title":null,"domain":true}}}}]},
{"width":15,"height":250,"layer":[{"mark":{"type":"area","orient":"horizontal","color":"#231f20"},"encoding":{"y":{"field":"age","type":"quantitative","scale":{"domain":[0,5280],"reverse":true,"nice":false,"zero":false},"axis":{"labels":false,"ticks":false,"title":null,"domain":true}},"x":{"field":"Carpinus","type":"quantitative","scale":{"domain":[0,3],"nice":false,"zero":false},"axis":{"orient":"top","values":[0,1],"title":"Carpinus","titleFontStyle":"italic","titleAngle":-90,"titleAlign":"left","titleBaseline":"middle","titleFontSize":14,"titlePadding":2}}}},{"data":{"name":"zoneLines"},"mark":{"type":"rule","color":"#3a3a3a","strokeWidth":1.2},"encoding":{"y":{"field":"age","type":"quantitative","axis":{"labels":false,"ticks":false,"title":null,"domain":true}}}}]},
{"width":11,"height":250,"layer":[{"mark":{"type":"area","orient":"horizontal","color":"#231f20"},"encoding":{"y":{"field":"age","type":"quantitative","scale":{"domain":[0,5280],"reverse":true,"nice":false,"zero":false},"axis":{"labels":false,"ticks":false,"title":null,"domain":true}},"x":{"field":"Salix","type":"quantitative","scale":{"domain":[0,2.75],"nice":false,"zero":false},"axis":{"orient":"top","values":[0,1],"title":"Salix","titleFontStyle":"italic","titleAngle":-90,"titleAlign":"left","titleBaseline":"middle","titleFontSize":14,"titlePadding":2}}}},{"data":{"name":"zoneLines"},"mark":{"type":"rule","color":"#3a3a3a","strokeWidth":1.2},"encoding":{"y":{"field":"age","type":"quantitative","axis":{"labels":false,"ticks":false,"title":null,"domain":true}}}}]},
{"width":15,"height":250,"layer":[{"mark":{"type":"area","orient":"horizontal","color":"#231f20"},"encoding":{"y":{"field":"age","type":"quantitative","scale":{"domain":[0,5280],"reverse":true,"nice":false,"zero":false},"axis":{"labels":false,"ticks":false,"title":null,"domain":true}},"x":{"field":"Quercus","type":"quantitative","scale":{"domain":[0,26.3],"nice":false,"zero":false},"axis":{"orient":"top","values":[0,10],"title":"Quercus","titleFontStyle":"italic","titleAngle":-90,"titleAlign":"left","titleBaseline":"middle","titleFontSize":14,"titlePadding":2}}}},{"data":{"name":"zoneLines"},"mark":{"type":"rule","color":"#3a3a3a","strokeWidth":1.2},"encoding":{"y":{"field":"age","type":"quantitative","axis":{"labels":false,"ticks":false,"title":null,"domain":true}}}}]},
{"width":11,"height":250,"layer":[{"mark":{"type":"area","orient":"horizontal","color":"#231f20"},"encoding":{"y":{"field":"age","type":"quantitative","scale":{"domain":[0,5280],"reverse":true,"nice":false,"zero":false},"axis":{"labels":false,"ticks":false,"title":null,"domain":true}},"x":{"field":"Ulmus","type":"quantitative","scale":{"domain":[0,13.75],"nice":false,"zero":false},"axis":{"orient":"top","values":[0,5],"title":"Ulmus","titleFontStyle":"italic","titleAngle":-90,"titleAlign":"left","titleBaseline":"middle","titleFontSize":14,"titlePadding":2}}}},{"data":{"name":"zoneLines"},"mark":{"type":"rule","color":"#3a3a3a","strokeWidth":1.2},"encoding":{"y":{"field":"age","type":"quantitative","axis":{"labels":false,"ticks":false,"title":null,"domain":true}}}}]},
{"width":9,"height":250,"layer":[{"mark":{"type":"area","orient":"horizontal","color":"#231f20"},"encoding":{"y":{"field":"age","type":"quantitative","scale":{"domain":[0,5280],"reverse":true,"nice":false,"zero":false},"axis":{"labels":false,"ticks":false,"title":null,"domain":true}},"x":{"field":"Juglans","type":"quantitative","scale":{"domain":[0,12.2],"nice":false,"zero":false},"axis":{"orient":"top","values":[0,5],"title":"Juglans","titleFontStyle":"italic","titleAngle":-90,"titleAlign":"left","titleBaseline":"middle","titleFontSize":14,"titlePadding":2}}}},{"data":{"name":"zoneLines"},"mark":{"type":"rule","color":"#3a3a3a","strokeWidth":1.2},"encoding":{"y":{"field":"age","type":"quantitative","axis":{"labels":false,"ticks":false,"title":null,"domain":true}}}}]},
{"width":9,"height":250,"layer":[{"mark":{"type":"area","orient":"horizontal","color":"#231f20"},"encoding":{"y":{"field":"age","type":"quantitative","scale":{"domain":[0,5280],"reverse":true,"nice":false,"zero":false},"axis":{"labels":false,"ticks":false,"title":null,"domain":true}},"x":{"field":"Tilia","type":"quantitative","scale":{"domain":[0,6.77],"nice":false,"zero":false},"axis":{"orient":"top","values":[0,3],"title":"Tilia","titleFontStyle":"italic","titleAngle":-90,"titleAlign":"left","titleBaseline":"middle","titleFontSize":14,"titlePadding":2}}}},{"data":{"name":"zoneLines"},"mark":{"type":"rule","color":"#3a3a3a","strokeWidth":1.2},"encoding":{"y":{"field":"age","type":"quantitative","axis":{"labels":false,"ticks":false,"title":null,"domain":true}}}}]},
{"width":68,"height":250,"layer":[{"mark":{"type":"area","orient":"horizontal","color":"#231f20"},"encoding":{"y":{"field":"age","type":"quantitative","scale":{"domain":[0,5280],"reverse":true,"nice":false,"zero":false},"axis":{"labels":false,"ticks":false,"title":null,"domain":true}},"x":{"field":"Cyper","type":"quantitative","scale":{"domain":[0,74.2],"nice":false,"zero":false},"axis":{"orient":"top","values":[0,20,40,60],"title":"Cyperaceae","titleFontStyle":"normal","titleAngle":-90,"titleAlign":"left","titleBaseline":"middle","titleFontSize":14,"titlePadding":2}}}},{"data":{"name":"zoneLines"},"mark":{"type":"rule","color":"#3a3a3a","strokeWidth":1.2},"encoding":{"y":{"field":"age","type":"quantitative","axis":{"labels":false,"ticks":false,"title":null,"domain":true}}}}]},
{"width":32,"height":250,"layer":[{"mark":{"type":"area","orient":"horizontal","color":"#231f20"},"encoding":{"y":{"field":"age","type":"quantitative","scale":{"domain":[0,5280],"reverse":true,"nice":false,"zero":false},"axis":{"labels":false,"ticks":false,"title":null,"domain":true}},"x":{"field":"Aster","type":"quantitative","scale":{"domain":[0,31.1],"nice":false,"zero":false},"axis":{"orient":"top","values":[0,20],"title":"Asteraceae","titleFontStyle":"normal","titleAngle":-90,"titleAlign":"left","titleBaseline":"middle","titleFontSize":14,"titlePadding":2}}}},{"data":{"name":"zoneLines"},"mark":{"type":"rule","color":"#3a3a3a","strokeWidth":1.2},"encoding":{"y":{"field":"age","type":"quantitative","axis":{"labels":false,"ticks":false,"title":null,"domain":true}}}}]},
{"width":29,"height":250,"layer":[{"mark":{"type":"area","orient":"horizontal","color":"#231f20"},"encoding":{"y":{"field":"age","type":"quantitative","scale":{"domain":[0,5280],"reverse":true,"nice":false,"zero":false},"axis":{"labels":false,"ticks":false,"title":null,"domain":true}},"x":{"field":"Artem","type":"quantitative","scale":{"domain":[0,29.9],"nice":false,"zero":false},"axis":{"orient":"top","values":[0,20],"title":"Artemisia","titleFontStyle":"italic","titleAngle":-90,"titleAlign":"left","titleBaseline":"middle","titleFontSize":14,"titlePadding":2}}}},{"data":{"name":"zoneLines"},"mark":{"type":"rule","color":"#3a3a3a","strokeWidth":1.2},"encoding":{"y":{"field":"age","type":"quantitative","axis":{"labels":false,"ticks":false,"title":null,"domain":true}}}}]},
{"width":81,"height":250,"layer":[{"mark":{"type":"area","orient":"horizontal","color":"#231f20"},"encoding":{"y":{"field":"age","type":"quantitative","scale":{"domain":[0,5280],"reverse":true,"nice":false,"zero":false},"axis":{"labels":false,"ticks":false,"title":null,"domain":true}},"x":{"field":"Eric","type":"quantitative","scale":{"domain":[0,95.3],"nice":false,"zero":false},"axis":{"orient":"top","values":[0,20,40,60,80],"title":"Ericaceae","titleFontStyle":"normal","titleAngle":-90,"titleAlign":"left","titleBaseline":"middle","titleFontSize":14,"titlePadding":2}}}},{"data":{"name":"zoneLines"},"mark":{"type":"rule","color":"#3a3a3a","strokeWidth":1.2},"encoding":{"y":{"field":"age","type":"quantitative","axis":{"labels":false,"ticks":false,"title":null,"domain":true}}}}]},
{"width":13,"height":250,"layer":[{"mark":{"type":"area","orient":"horizontal","color":"#231f20"},"encoding":{"y":{"field":"age","type":"quantitative","scale":{"domain":[0,5280],"reverse":true,"nice":false,"zero":false},"axis":{"labels":false,"ticks":false,"title":null,"domain":true}},"x":{"field":"Ranun","type":"quantitative","scale":{"domain":[0,17.8],"nice":false,"zero":false},"axis":{"orient":"top","values":[0,10],"title":"Ranunculaceae","titleFontStyle":"normal","titleAngle":-90,"titleAlign":"left","titleBaseline":"middle","titleFontSize":14,"titlePadding":2}}}},{"data":{"name":"zoneLines"},"mark":{"type":"rule","color":"#3a3a3a","strokeWidth":1.2},"encoding":{"y":{"field":"age","type":"quantitative","axis":{"labels":false,"ticks":false,"title":null,"domain":true}}}}]},
{"width":10,"height":250,"layer":[{"mark":{"type":"area","orient":"horizontal","color":"#231f20"},"encoding":{"y":{"field":"age","type":"quantitative","scale":{"domain":[0,5280],"reverse":true,"nice":false,"zero":false},"axis":{"labels":false,"ticks":false,"title":null,"domain":true}},"x":{"field":"Thal","type":"quantitative","scale":{"domain":[0,3.03],"nice":false,"zero":false},"axis":{"orient":"top","values":[0,1],"title":"Thalictrum","titleFontStyle":"italic","titleAngle":-90,"titleAlign":"left","titleBaseline":"middle","titleFontSize":14,"titlePadding":2}}}},{"data":{"name":"zoneLines"},"mark":{"type":"rule","color":"#3a3a3a","strokeWidth":1.2},"encoding":{"y":{"field":"age","type":"quantitative","axis":{"labels":false,"ticks":false,"title":null,"domain":true}}}}]},
{"width":8,"height":250,"layer":[{"mark":{"type":"area","orient":"horizontal","color":"#231f20"},"encoding":{"y":{"field":"age","type":"quantitative","scale":{"domain":[0,5280],"reverse":true,"nice":false,"zero":false},"axis":{"labels":false,"ticks":false,"title":null,"domain":true}},"x":{"field":"Rosa","type":"quantitative","scale":{"domain":[0,12.05],"nice":false,"zero":false},"axis":{"orient":"top","values":[0,5],"title":"Rosaceae","titleFontStyle":"normal","titleAngle":-90,"titleAlign":"left","titleBaseline":"middle","titleFontSize":14,"titlePadding":2}}}},{"data":{"name":"zoneLines"},"mark":{"type":"rule","color":"#3a3a3a","strokeWidth":1.2},"encoding":{"y":{"field":"age","type":"quantitative","axis":{"labels":false,"ticks":false,"title":null,"domain":true}}}}]},
{"width":9,"height":250,"layer":[{"mark":{"type":"area","orient":"horizontal","color":"#231f20"},"encoding":{"y":{"field":"age","type":"quantitative","scale":{"domain":[0,5280],"reverse":true,"nice":false,"zero":false},"axis":{"labels":false,"ticks":false,"title":null,"domain":true}},"x":{"field":"Cheno","type":"quantitative","scale":{"domain":[0,7.3],"nice":false,"zero":false},"axis":{"orient":"top","values":[0,3],"title":"Chenopodiaceae","titleFontStyle":"normal","titleAngle":-90,"titleAlign":"left","titleBaseline":"middle","titleFontSize":14,"titlePadding":2}}}},{"data":{"name":"zoneLines"},"mark":{"type":"rule","color":"#3a3a3a","strokeWidth":1.2},"encoding":{"y":{"field":"age","type":"quantitative","axis":{"labels":false,"ticks":false,"title":null,"domain":true}}}}]},
{"width":10,"height":250,"layer":[{"mark":{"type":"area","orient":"horizontal","color":"#231f20"},"encoding":{"y":{"field":"age","type":"quantitative","scale":{"domain":[0,5280],"reverse":true,"nice":false,"zero":false},"axis":{"labels":false,"ticks":false,"title":null,"domain":true}},"x":{"field":"Polyg","type":"quantitative","scale":{"domain":[0,8.8],"nice":false,"zero":false},"axis":{"orient":"top","values":[0,3],"title":"Polygonaceae","titleFontStyle":"normal","titleAngle":-90,"titleAlign":"left","titleBaseline":"middle","titleFontSize":14,"titlePadding":2}}}},{"data":{"name":"zoneLines"},"mark":{"type":"rule","color":"#3a3a3a","strokeWidth":1.2},"encoding":{"y":{"field":"age","type":"quantitative","axis":{"labels":false,"ticks":false,"title":null,"domain":true}}}}]},
{"width":9,"height":250,"layer":[{"mark":{"type":"area","orient":"horizontal","color":"#231f20"},"encoding":{"y":{"field":"age","type":"quantitative","scale":{"domain":[0,5280],"reverse":true,"nice":false,"zero":false},"axis":{"labels":false,"ticks":false,"title":null,"domain":true}},"x":{"field":"Brass","type":"quantitative","scale":{"domain":[0,8.2],"nice":false,"zero":false},"axis":{"orient":"top","values":[0,3],"title":"Brassicaceae","titleFontStyle":"normal","titleAngle":-90,"titleAlign":"left","titleBaseline":"middle","titleFontSize":14,"titlePadding":2}}}},{"data":{"name":"zoneLines"},"mark":{"type":"rule","color":"#3a3a3a","strokeWidth":1.2},"encoding":{"y":{"field":"age","type":"quantitative","axis":{"labels":false,"ticks":false,"title":null,"domain":true}}}}]},
{"width":9,"height":250,"layer":[{"mark":{"type":"area","orient":"horizontal","color":"#231f20"},"encoding":{"y":{"field":"age","type":"quantitative","scale":{"domain":[0,5280],"reverse":true,"nice":false,"zero":false},"axis":{"labels":false,"ticks":false,"title":null,"domain":true}},"x":{"field":"Api","type":"quantitative","scale":{"domain":[0,8.2],"nice":false,"zero":false},"axis":{"orient":"top","values":[0,3],"title":"Apiaceae","titleFontStyle":"normal","titleAngle":-90,"titleAlign":"left","titleBaseline":"middle","titleFontSize":14,"titlePadding":2}}}},{"data":{"name":"zoneLines"},"mark":{"type":"rule","color":"#3a3a3a","strokeWidth":1.2},"encoding":{"y":{"field":"age","type":"quantitative","axis":{"labels":false,"ticks":false,"title":null,"domain":true}}}}]},
{"width":9,"height":250,"layer":[{"mark":{"type":"area","orient":"horizontal","color":"#231f20"},"encoding":{"y":{"field":"age","type":"quantitative","scale":{"domain":[0,5280],"reverse":true,"nice":false,"zero":false},"axis":{"labels":false,"ticks":false,"title":null,"domain":true}},"x":{"field":"Poa","type":"quantitative","scale":{"domain":[0,2.73],"nice":false,"zero":false},"axis":{"orient":"top","values":[0,1],"title":"Poaceae","titleFontStyle":"normal","titleAngle":-90,"titleAlign":"left","titleBaseline":"middle","titleFontSize":14,"titlePadding":2}}}},{"data":{"name":"zoneLines"},"mark":{"type":"rule","color":"#3a3a3a","strokeWidth":1.2},"encoding":{"y":{"field":"age","type":"quantitative","axis":{"labels":false,"ticks":false,"title":null,"domain":true}}}}]},
{"width":12,"height":250,"layer":[{"mark":{"type":"area","orient":"horizontal","color":"#231f20"},"encoding":{"y":{"field":"age","type":"quantitative","scale":{"domain":[0,5280],"reverse":true,"nice":false,"zero":false},"axis":{"labels":false,"ticks":false,"title":null,"domain":true}},"x":{"field":"Saxi","type":"quantitative","scale":{"domain":[0,3.64],"nice":false,"zero":false},"axis":{"orient":"top","values":[0,1],"title":"Saxifragaceae","titleFontStyle":"normal","titleAngle":-90,"titleAlign":"left","titleBaseline":"middle","titleFontSize":14,"titlePadding":2}}}},{"data":{"name":"zoneLines"},"mark":{"type":"rule","color":"#3a3a3a","strokeWidth":1.2},"encoding":{"y":{"field":"age","type":"quantitative","axis":{"labels":false,"ticks":false,"title":null,"domain":true}}}}]},
{"width":32,"height":250,"layer":[{"mark":{"type":"area","orient":"horizontal","color":"#231f20"},"encoding":{"y":{"field":"age","type":"quantitative","scale":{"domain":[0,5280],"reverse":true,"nice":false,"zero":false},"axis":{"labels":false,"ticks":false,"title":null,"domain":true}},"x":{"field":"Lyco","type":"quantitative","scale":{"domain":[0,39],"nice":false,"zero":false},"axis":{"orient":"top","values":[0,20],"title":"Lycopodium","titleFontStyle":"italic","titleAngle":-90,"titleAlign":"left","titleBaseline":"middle","titleFontSize":14,"titlePadding":2}}}},{"data":{"name":"zoneLines"},"mark":{"type":"rule","color":"#3a3a3a","strokeWidth":1.2},"encoding":{"y":{"field":"age","type":"quantitative","axis":{"labels":false,"ticks":false,"title":null,"domain":true}}}}]},
{"width":78,"height":250,"layer":[{"mark":{"type":"area","orient":"horizontal","color":"#231f20"},"encoding":{"y":{"field":"age","type":"quantitative","scale":{"domain":[0,5280],"reverse":true,"nice":false,"zero":false},"axis":{"labels":false,"ticks":false,"title":null,"domain":true}},"x":{"field":"Polyp","type":"quantitative","scale":{"domain":[0,94],"nice":false,"zero":false},"axis":{"orient":"top","values":[0,20,40,60,80],"title":"Polypodiaceae","titleFontStyle":"normal","titleAngle":-90,"titleAlign":"left","titleBaseline":"middle","titleFontSize":14,"titlePadding":2}}}},{"data":{"name":"zoneLines"},"mark":{"type":"rule","color":"#3a3a3a","strokeWidth":1.2},"encoding":{"y":{"field":"age","type":"quantitative","axis":{"labels":false,"ticks":false,"title":null,"domain":true}}}}]},
{"width":11,"height":250,"layer":[{"mark":{"type":"area","orient":"horizontal","color":"#231f20"},"encoding":{"y":{"field":"age","type":"quantitative","scale":{"domain":[0,5280],"reverse":true,"nice":false,"zero":false},"axis":{"labels":false,"ticks":false,"title":null,"domain":true}},"x":{"field":"Osmu","type":"quantitative","scale":{"domain":[0,9.8],"nice":false,"zero":false},"axis":{"orient":"top","values":[0,5],"title":"Osmunda","titleFontStyle":"italic","titleAngle":-90,"titleAlign":"left","titleBaseline":"middle","titleFontSize":14,"titlePadding":2}}}},{"data":{"name":"zoneLines"},"mark":{"type":"rule","color":"#3a3a3a","strokeWidth":1.2},"encoding":{"y":{"field":"age","type":"quantitative","axis":{"labels":false,"ticks":false,"title":null,"domain":true}}}}]},
{"width":95,"height":250,"layer":[{"mark":{"type":"area","orient":"horizontal","color":"#231f20"},"encoding":{"y":{"field":"age","type":"quantitative","scale":{"domain":[0,5280],"reverse":true,"nice":false,"zero":false},"axis":{"labels":false,"ticks":false,"title":null,"domain":true}},"x":{"field":"Sphag","type":"quantitative","scale":{"domain":[0,114.5],"nice":false,"zero":false},"axis":{"orient":"top","values":[0,20,40,60,80],"title":"Sphagnum","titleFontStyle":"italic","titleAngle":-90,"titleAlign":"left","titleBaseline":"middle","titleFontSize":14,"titlePadding":2}}}},{"data":{"name":"zoneLines"},"mark":{"type":"rule","color":"#3a3a3a","strokeWidth":1.2},"encoding":{"y":{"field":"age","type":"quantitative","axis":{"labels":false,"ticks":false,"title":null,"domain":true}}}}]},
{"width":20,"height":250,"view":{"stroke":"#8c8c8c","strokeWidth":1.5},"data":{"name":"zoneLabels"},"layer":[
{"transform":[{"filter":"datum.zone <= 6"}],"mark":{"type":"text","fontSize":14,"baseline":"middle","color":"#231f20"},"encoding":{"x":{"datum":0.5,"type":"quantitative","scale":{"domain":[0,1],"nice":false,"zero":false},"axis":{"orient":"top","title":"Pollen zones","labels":false,"ticks":false,"domain":false,"titleFontStyle":"normal","titleAngle":-90,"titleAlign":"left","titleBaseline":"middle","titleFontSize":13.5,"titlePadding":18}},"y":{"field":"mid","type":"quantitative","scale":{"domain":[0,5280],"reverse":true,"nice":false,"zero":false},"axis":null},"text":{"field":"zone","type":"nominal"}}},
{"transform":[{"filter":"datum.zone == 7"}],"mark":{"type":"text","fontSize":13,"baseline":"middle","color":"#231f20"},"encoding":{"x":{"datum":0.35,"type":"quantitative","axis":{"orient":"top","title":"Pollen zones","labels":false,"ticks":false,"domain":false,"titleFontStyle":"normal","titleAngle":-90,"titleAlign":"left","titleBaseline":"middle","titleFontSize":13.5,"titlePadding":18}},"y":{"field":"mid","type":"quantitative","axis":null},"text":{"field":"zone","type":"nominal"}}},
{"transform":[{"filter":"datum.zone == 8"}],"mark":{"type":"text","fontSize":10,"baseline":"middle","color":"#231f20"},"encoding":{"x":{"datum":0.75,"type":"quantitative","axis":{"orient":"top","title":"Pollen zones","labels":false,"ticks":false,"domain":false,"titleFontStyle":"normal","titleAngle":-90,"titleAlign":"left","titleBaseline":"middle","titleFontSize":13.5,"titlePadding":18}},"y":{"field":"mid","type":"quantitative","axis":null},"text":{"field":"zone","type":"nominal"}}},
{"data":{"name":"zoneLines"},"mark":{"type":"rule","color":"#3a3a3a","strokeWidth":1.2},"encoding":{"y":{"field":"age","type":"quantitative","axis":null}}}
]}
],"spacing":0,"bounds":"flush"}
],
"spacing":141,
"bounds":"flush"
}
